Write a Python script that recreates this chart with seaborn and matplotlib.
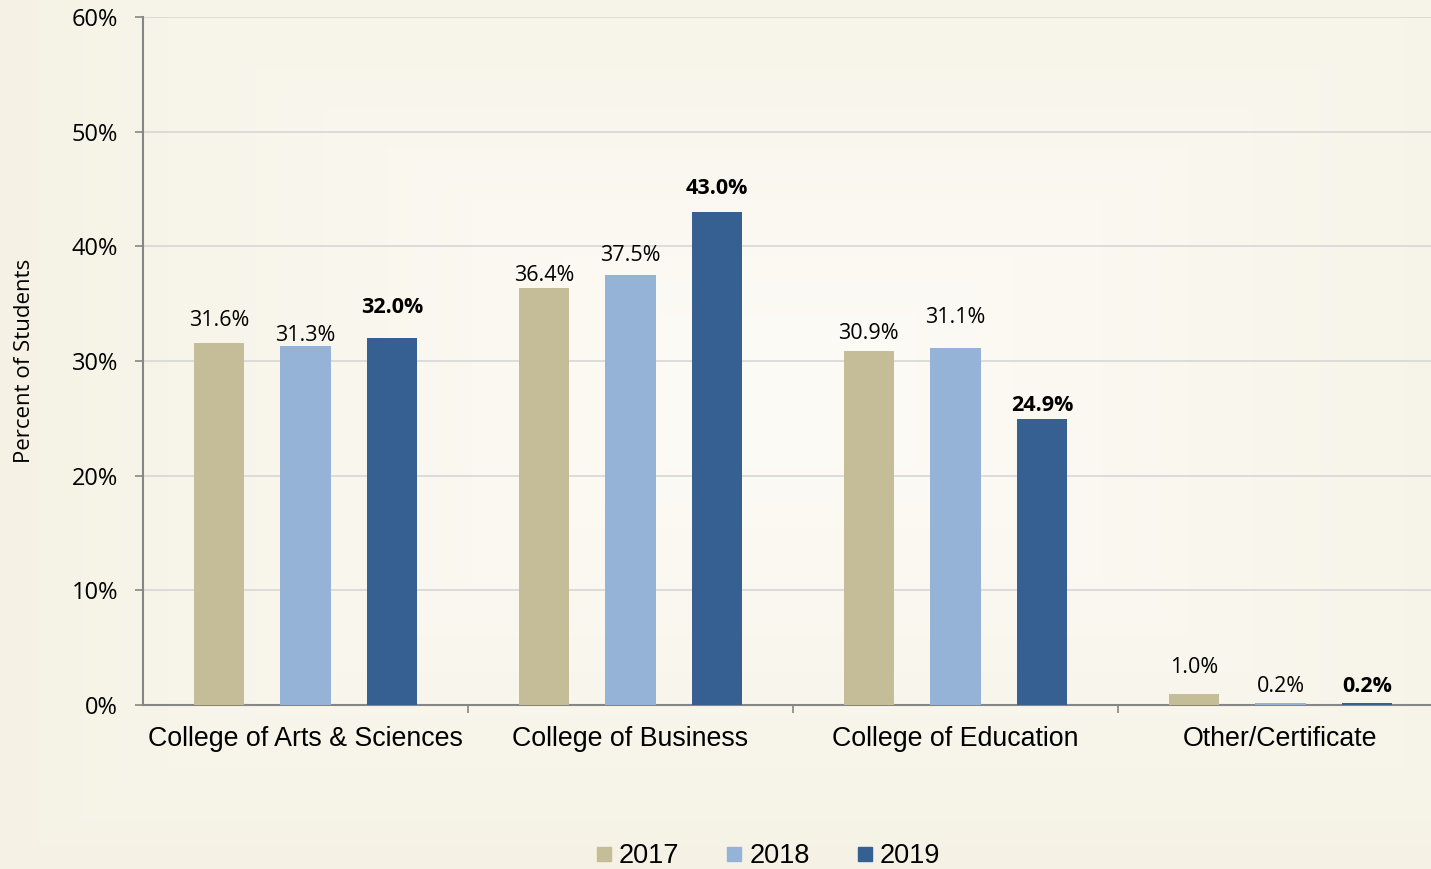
import numpy as np
import pandas as pd
import seaborn as sns
import matplotlib.pyplot as plt
from matplotlib.lines import Line2D
from matplotlib.colors import to_rgb

# --- data ---
colleges = ["College of Arts & Sciences", "College of Business",
            "College of Education", "Other/Certificate"]
years = ["2017", "2018", "2019"]
pct_2017 = [31.6, 36.4, 30.9, 1.0]
pct_2018 = [31.3, 37.5, 31.1, 0.2]
pct_2019 = [32.0, 43.0, 24.9, 0.2]

# label lift above each bar (pixels), the original labels were nudged by hand
label_lift = {"2017": [17, 7, 12, 21],
              "2018": [5, 14, 25, 11],
              "2019": [25, 18, 8, 11]}

colors = {"2017": "#C4BD97", "2018": "#95B3D7", "2019": "#376092"}

df = pd.DataFrame({
    "college": colleges * 3,
    "year": ["2017"] * 4 + ["2018"] * 4 + ["2019"] * 4,
    "pct": pct_2017 + pct_2018 + pct_2019,
})

sns.set_style("white")
plt.rcParams["font.family"] = ["Open Sans", "DejaVu Sans"]
plt.rcParams["text.color"] = "black"
plt.rcParams["axes.labelcolor"] = "black"
plt.rcParams["xtick.color"] = "black"
plt.rcParams["ytick.color"] = "black"

W, H = 1431, 869
fig = plt.figure(figsize=(W / 100, H / 100), dpi=100)

# background: soft "from centre" gradient like the Excel chart area
bg = fig.add_axes([0, 0, 1, 1], zorder=-5)
yy, xx = np.mgrid[0:H, 0:W]
t = np.maximum(np.abs(xx - W * 0.55) / (W * 0.55), np.abs(yy - H * 0.45) / (H * 0.55))
t = np.clip(t, 0, 1) ** 1.2
c_in = np.array(to_rgb("#FDFBF6"))
c_out = np.array(to_rgb("#F5F2E5"))
img = c_in[None, None, :] * (1 - t[..., None]) + c_out[None, None, :] * t[..., None]
bg.imshow(img, aspect="auto", extent=[0, 1, 0, 1], origin="upper")
bg.axis("off")

ax = fig.add_axes([143 / W, 1 - 705 / H, 1300 / W, 688 / H])
ax.set_facecolor("none")

sns.barplot(data=df, x="college", y="pct", hue="year", order=colleges,
            hue_order=years, palette=colors, width=0.8, gap=0.42,
            saturation=1, errorbar=None, legend=False, ax=ax, zorder=3,
            linewidth=0)

ax.set_xlim(-0.5, 3.5)
ax.set_ylim(0, 60)
ax.set_yticks(range(0, 61, 10))
ax.set_yticklabels([f"{v}%" for v in range(0, 61, 10)], fontsize=17)
ax.set_xticks(range(4))
ax.set_xticklabels(colleges, fontsize=19.3, family=["Liberation Sans", "DejaVu Sans"])
ax.set_xticks([0.5, 1.5, 2.5], minor=True)
ax.tick_params(axis="x", which="major", bottom=True, length=0, pad=15)
ax.tick_params(axis="x", which="minor", bottom=True, length=6, width=1.2,
               color="#868686", direction="out")
ax.tick_params(axis="y", left=True, length=6, width=1.2, color="#868686",
               labelcolor="black", pad=12, direction="out")
ax.set_xlabel("")
ax.set_ylabel("Percent of Students", fontsize=16)
ax.yaxis.set_label_coords(-108 / 1300, 0.5)

ax.grid(axis="y", color="#D9D9D9", lw=1.3, zorder=0)
ax.set_axisbelow(True)
for side in ["top", "right"]:
    ax.spines[side].set_visible(False)
for side in ["left", "bottom"]:
    ax.spines[side].set_color("#868686")
    ax.spines[side].set_linewidth(1.5)

# data labels
for yr, cont in zip(years, ax.containers):
    for i, bar in enumerate(cont):
        x = bar.get_x() + bar.get_width() / 2
        h = bar.get_height()
        ax.annotate(f"{h:.1f}%", (x, h), xytext=(0, label_lift[yr][i]),
                    textcoords="offset pixels", ha="center", va="baseline",
                    fontsize=15.5, fontweight="bold" if yr == "2019" else "normal",
                    color="black", zorder=5)

handles = [Line2D([], [], marker="s", linestyle="", markersize=10.5,
                  markerfacecolor=colors[y], markeredgecolor=colors[y]) for y in years]
fig.legend(handles, years, loc="center", bbox_to_anchor=(768 / W, 1 - 856 / H),
           ncol=3, frameon=False, handlelength=0.6, handletextpad=0.25,
           columnspacing=1.73, prop={"family": "Liberation Sans", "size": 19.5})

fig.savefig("out.png", dpi=100)
